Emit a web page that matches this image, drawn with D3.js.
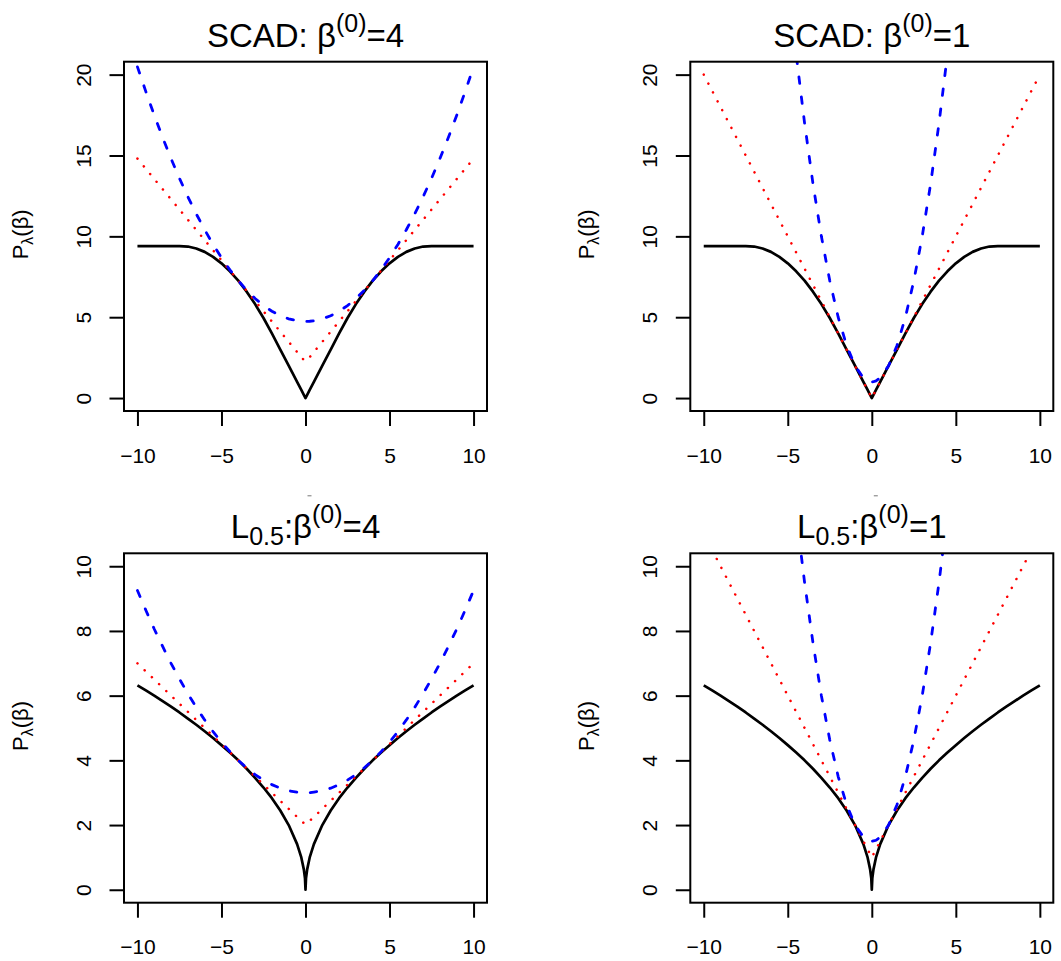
<!DOCTYPE html>
<html>
<head>
<meta charset="utf-8">
<script src="https://cdn.jsdelivr.net/npm/d3@7"></script>
<style>
  body { margin: 0; background: #fff; }
  svg { display: block; font-family: "Liberation Sans", Arial, Helvetica, sans-serif; }
</style>
</head>
<body>
<svg width="1061" height="961"></svg>
<script>
// beta grid shared by every curve (finer near 0 for the kinks)
const beta = [-10,-9.5,-9,-8.5,-8,-7.5,-7,-6.5,-6,-5.5,-5,-4.5,-4,-3.5,-3,-2.5,-2,-1.5,-1,-0.5,-0.25,-0.1,-0.03,
  0,0.03,0.1,0.25,0.5,1,1.5,2,2.5,3,3.5,4,4.5,5,5.5,6,6.5,7,7.5,8,8.5,9,9.5,10];

const xTicks = [-10, -5, 0, 5, 10];
const scadTicks = [0, 5, 10, 15, 20];
const lhalfTicks = [0, 2, 4, 6, 8, 10];

// SCAD penalty (black, solid)
const scadPenalty = [9.4,9.4,9.4,9.4,9.4,9.4,9.37,9.25,9.04,8.73,8.33,7.84,7.26,6.58,5.81,4.95,4,3,2,1,0.5,0.2,0.06,
  0,0.06,0.2,0.5,1,2,3,4,4.95,5.81,6.58,7.26,7.84,8.33,8.73,9.04,9.25,9.37,9.4,9.4,9.4,9.4,9.4,9.4];
// SCAD, beta(0)=4
const scadRed4 = [14.81,14.18,13.55,12.92,12.29,11.66,11.03,10.40,9.77,9.14,8.52,7.89,7.26,6.63,6.00,5.37,4.74,4.11,3.48,2.85,2.53,2.36,2.30,
  2.28,2.30,2.36,2.53,2.85,3.48,4.11,4.74,5.37,6.00,6.63,7.26,7.89,8.52,9.14,9.77,10.40,11.03,11.66,12.29,12.92,13.55,14.18,14.81];
const scadBlue4 = [20.48,18.95,17.49,16.11,14.81,13.59,12.45,11.39,10.41,9.50,8.68,7.93,7.26,6.67,6.16,5.72,5.37,5.09,4.90,4.78,4.75,4.74,4.74,
  4.74,4.74,4.74,4.75,4.78,4.90,5.09,5.37,5.72,6.16,6.67,7.26,7.93,8.68,9.50,10.41,11.39,12.45,13.59,14.81,16.11,17.49,18.95,20.48];
// SCAD, beta(0)=1
const scadRed1 = [20,19,18,17,16,15,14,13,12,11,10,9,8,7,6,5,4,3,2,1,0.5,0.2,0.06,
  0,0.06,0.2,0.5,1,2,3,4,5,6,7,8,9,10,11,12,13,14,15,16,17,18,19,20];
const scadBlue1 = [null,null,null,null,null,null,null,null,null,null,26,21.25,17,13.25,10,7.25,5,3.25,2,1.25,1.06,1.01,1.00,
  1.00,1.00,1.01,1.06,1.25,2,3.25,5,7.25,10,13.25,17,21.25,26,null,null,null,null,null,null,null,null,null,null];

// L0.5 penalty (black, solid)
const lhalfPenalty = [6.32,6.16,6.00,5.83,5.66,5.48,5.29,5.10,4.90,4.69,4.47,4.24,4.00,3.74,3.46,3.16,2.83,2.45,2.00,1.41,1.00,0.63,0.35,
  0,0.35,0.63,1.00,1.41,2.00,2.45,2.83,3.16,3.46,3.74,4.00,4.24,4.47,4.69,4.90,5.10,5.29,5.48,5.66,5.83,6.00,6.16,6.32];
// L0.5, beta(0)=4
const lhalfRed4 = [7.00,6.75,6.50,6.25,6.00,5.75,5.50,5.25,5.00,4.75,4.50,4.25,4.00,3.75,3.50,3.25,3.00,2.75,2.50,2.25,2.13,2.06,2.03,
  2.02,2.03,2.06,2.13,2.25,2.50,2.75,3.00,3.25,3.50,3.75,4.00,4.25,4.50,4.75,5.00,5.25,5.50,5.75,6.00,6.25,6.50,6.75,7.00];
const lhalfBlue4 = [9.25,8.64,8.06,7.52,7.00,6.52,6.06,5.64,5.25,4.89,4.56,4.27,4.00,3.77,3.56,3.39,3.25,3.14,3.06,3.02,3.00,3.00,3.00,
  3.00,3.00,3.00,3.00,3.02,3.06,3.14,3.25,3.39,3.56,3.77,4.00,4.27,4.56,4.89,5.25,5.64,6.06,6.52,7.00,7.52,8.06,8.64,9.25];
// L0.5, beta(0)=1
const lhalfRed1 = [null,10.5,10,9.5,9,8.5,8,7.5,7,6.5,6,5.5,5,4.5,4,3.5,3,2.5,2,1.5,1.25,1.1,1.03,
  1.0,1.03,1.1,1.25,1.5,2,2.5,3,3.5,4,4.5,5,5.5,6,6.5,7,7.5,8,8.5,9,9.5,10,10.5,null];
const lhalfBlue1 = [null,null,null,null,null,null,null,null,null,null,14,11.63,9.5,7.63,6,4.63,3.5,2.63,2,1.63,1.53,1.51,1.50,
  1.50,1.50,1.51,1.53,1.63,2,2.63,3.5,4.63,6,7.63,9.5,11.63,14,null,null,null,null,null,null,null,null,null,null];

const svg = d3.select('svg');

// plot boxes (R's 2x2 layout)
const cols = [{x0: 124, x1: 487}, {x0: 690.3, x1: 1053.3}];
const rows = [{y0: 61.7, y1: 411}, {y0: 553.3, y1: 902.7}];

const panels = [
  {row: 0, col: 0, kind: 'scad', b0: '4', yMax: 20, yTicks: scadTicks, black: scadPenalty, red: scadRed4, blue: scadBlue4},
  {row: 0, col: 1, kind: 'scad', b0: '1', yMax: 20, yTicks: scadTicks, black: scadPenalty, red: scadRed1, blue: scadBlue1},
  {row: 1, col: 0, kind: 'lhalf', b0: '4', yMax: 10, yTicks: lhalfTicks, black: lhalfPenalty, red: lhalfRed4, blue: lhalfBlue4},
  {row: 1, col: 1, kind: 'lhalf', b0: '1', yMax: 10, yTicks: lhalfTicks, black: lhalfPenalty, red: lhalfRed1, blue: lhalfBlue1}
];

panels.forEach(function(p, k) {
  const c = cols[p.col], r = rows[p.row];
  const x = d3.scaleLinear().domain([-10.8, 10.8]).range([c.x0, c.x1]);
  const y = d3.scaleLinear().domain([-0.04 * p.yMax, 1.04 * p.yMax]).range([r.y1, r.y0]);
  const g = svg.append('g');

  g.append('clipPath').attr('id', 'clip' + k)
    .append('rect').attr('x', c.x0).attr('y', r.y0)
    .attr('width', c.x1 - c.x0).attr('height', r.y1 - r.y0);

  const line = d3.line()
    .defined(d => d[1] != null)
    .x(d => x(d[0]))
    .y(d => y(d[1]));

  const curves = g.append('g').attr('clip-path', 'url(#clip' + k + ')')
    .attr('fill', 'none');
  curves.append('path')
    .attr('d', line(beta.map((b, i) => [b, p.black[i]])))
    .attr('stroke', '#000').attr('stroke-width', 2.7).attr('stroke-linejoin', 'round');
  curves.append('path')
    .attr('d', line(beta.map((b, i) => [b, p.red[i]])))
    .attr('stroke', '#ff0000').attr('stroke-width', 2.5)
    .attr('stroke-linecap', 'round').attr('stroke-dasharray', '0.1 9.9');
  curves.append('path')
    .attr('d', line(beta.map((b, i) => [b, p.blue[i]])))
    .attr('stroke', '#0000ff').attr('stroke-width', 2.8)
    .attr('stroke-linecap', 'round').attr('stroke-dasharray', '6.5 13.5');

  // box
  g.append('rect')
    .attr('x', c.x0).attr('y', r.y0)
    .attr('width', c.x1 - c.x0).attr('height', r.y1 - r.y0)
    .attr('fill', 'none').attr('stroke', '#000').attr('stroke-width', 2);

  // x axis
  const xa = g.append('g').attr('transform', 'translate(0,' + r.y1 + ')')
    .call(d3.axisBottom(x).tickValues(xTicks).tickSize(15).tickSizeOuter(0));
  xa.select('.domain').remove();
  xa.attr('font-size', 21).attr('font-family', null);
  xa.selectAll('line').attr('stroke', '#000').attr('stroke-width', 2);
  xa.selectAll('text')
    .attr('y', 51.5).attr('dy', null)
    .attr('fill', '#000');

  // y axis, labels parallel to the axis
  const ya = g.append('g').attr('transform', 'translate(' + c.x0 + ',0)')
    .call(d3.axisLeft(y).tickValues(p.yTicks).tickSize(14.5).tickSizeOuter(0));
  ya.select('.domain').remove();
  ya.attr('font-size', 21).attr('font-family', null);
  ya.selectAll('line').attr('stroke', '#000').attr('stroke-width', 2);
  ya.selectAll('text')
    .attr('x', null).attr('dy', null)
    .attr('text-anchor', 'middle')
    .attr('transform', 'translate(-33,0) rotate(-90)')
    .attr('fill', '#000');

  // y label P_lambda(beta)
  const cy = (r.y0 + r.y1) / 2;
  const yl = g.append('text')
    .attr('transform', 'translate(' + (c.x0 - 96) + ',' + (cy - 2) + ') rotate(-90)')
    .attr('text-anchor', 'middle').attr('font-size', 22).attr('fill', '#000');
  yl.append('tspan').text('P');
  yl.append('tspan').attr('font-size', 16).attr('dy', 5).text('λ');
  yl.append('tspan').attr('dy', -5).text('(β)');

  // title
  const cx = (c.x0 + c.x1) / 2;
  const t = g.append('text')
    .attr('x', cx).attr('y', r.y0 - 15)
    .attr('text-anchor', 'middle').attr('font-size', 33).attr('fill', '#000');
  if (p.kind === 'scad') {
    t.append('tspan').text('SCAD: β');
  } else {
    t.append('tspan').text('L');
    t.append('tspan').attr('font-size', 25).attr('dy', 7).text('0.5');
    t.append('tspan').attr('dy', -7).text(':β');
    // small stray mark above the lower titles
    g.append('line')
      .attr('x1', cx + 2).attr('x2', cx + 6)
      .attr('y1', r.y0 - 57.5).attr('y2', r.y0 - 57.5)
      .attr('stroke', '#777').attr('stroke-width', 1);
  }
  t.append('tspan').attr('font-size', 25).attr('dy', -15).text('(0)');
  t.append('tspan').attr('dy', 15).text('=' + p.b0);
});
</script>
</body>
</html>
